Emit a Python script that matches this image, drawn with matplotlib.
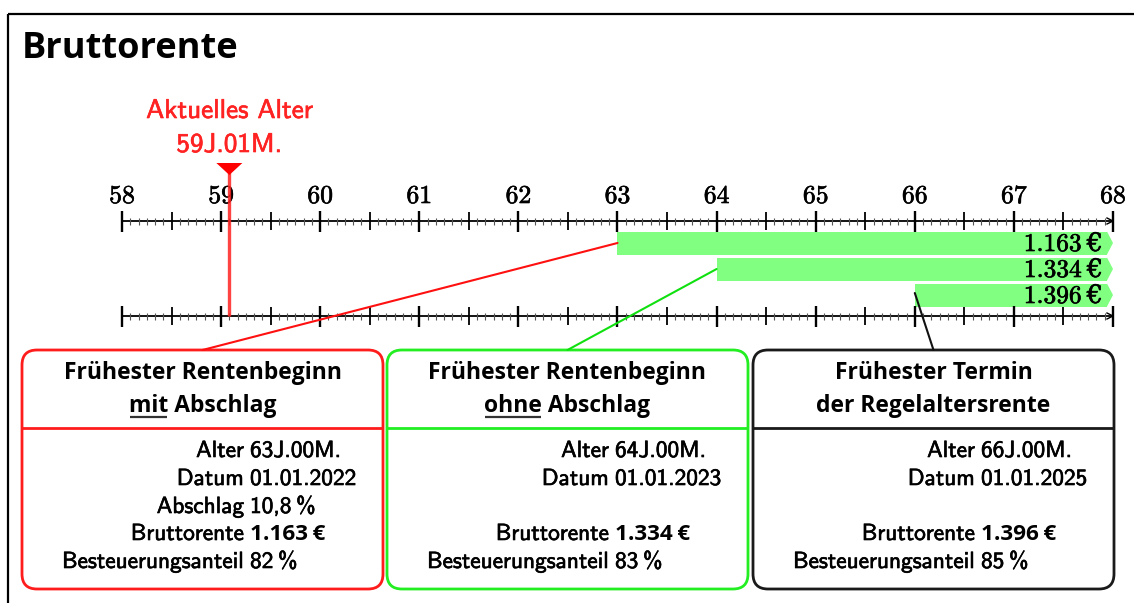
import matplotlib
matplotlib.use("Agg")
import matplotlib.pyplot as plt
import matplotlib.patheffects as pe
import numpy as np
from matplotlib.patches import ConnectionPatch, FancyBboxPatch, Polygon, Rectangle

# --- data ---------------------------------------------------------------------------
AXIS_START, AXIS_END = 58, 68
current_age = (59, 1)                      # years, months
start_ages = [63, 64, 66]
start_months = [0, 0, 0]
pensions = [1163, 1334, 1396]              # Bruttorente in EUR
dates = ["01.01.2022", "01.01.2023", "01.01.2025"]
deductions = [10.8, None, None]            # Abschlag in %
tax_shares = [82, 83, 85]                  # Besteuerungsanteil in %
title_line1 = ["Frühester Rentenbeginn", "Frühester Rentenbeginn", "Frühester Termin"]
title_line2 = ["mit Abschlag", "ohne Abschlag", "der Regelaltersrente"]
underlined = ["mit", "ohne", ""]
colors = ["#ff1c1c", "#22ee22", "#1a1a1a"]
leader_colors = ["#ff1010", "#10e010", "#111111"]

# --- layout (pixels) ----------------------------------------------------------------
W, H, DPI = 1134, 603, 100
PX0, PX1 = 122, 1113                       # pixel x of AXIS_START / AXIS_END
PPY = (PX1 - PX0) / (AXIS_END - AXIS_START)
AXIS_Y = [221, 316]
BAR_Y = [243, 269, 295]
BAR_H = 23
TIP = 6 / PPY
BOX_X = [22, 387, 753]
BOX_W, BOX_TOP, BOX_BOT, BOX_SEP = 361, 350, 589, 428
ROW_Y = [457, 485, 513, 540, 568]

SANS = ["cmss10", "DejaVu Sans"]
SERIF = ["cmr10", "DejaVu Serif"]
BOLD = ["Open Sans", "DejaVu Sans"]
RED = "#ff2222"


def thick(color="black", w=0.45):
    # cmss10/cmr10 render a bit light; a hairline stroke brings them closer to the PDF look
    return [pe.withStroke(linewidth=w, foreground=color)]


def de_num(v):
    return f"{v:,}".replace(",", ".")


def de_pct(v):
    return f"{v}".replace(".", ",") + "\u2009%"


fig = plt.figure(figsize=(W / DPI, H / DPI), dpi=DPI)
lay = fig.add_axes([0, 0, 1, 1])
lay.set_xlim(0, W)
lay.set_ylim(H, 0)
lay.axis("off")

ax = fig.add_axes([0, 0, 1, 1])
ax.set_xlim(AXIS_START - PX0 / PPY, AXIS_START + (W - PX0) / PPY)
ax.set_ylim(H, 0)
ax.axis("off")
ax.patch.set_alpha(0)

# frame + title
lay.add_patch(Rectangle((7.5, 14), 1200, 700, fill=False, ec="black", lw=1.6))
lay.text(22, 58, "Bruttorente", family=BOLD, weight="bold", size=26,
         ha="left", va="baseline")

# --- timeline axes ------------------------------------------------------------------
m = np.arange(AXIS_START * 12, AXIS_END * 12 + 1)
pos = m / 12
for y0 in AXIS_Y:
    ax.hlines(y0, AXIS_START, AXIS_END, color="black", lw=1.3, zorder=2)
    ax.vlines(pos[m % 6 != 0], y0 - 3.5, y0 + 3.5, color="#555555", lw=0.8, zorder=2)
    ax.vlines(pos[m % 12 == 6], y0 - 9, y0 + 9, color="black", lw=1.3, zorder=2)
    ax.vlines(pos[m % 12 == 0], y0 - 10.5, y0 + 10.5, color="black", lw=1.7, zorder=2)
    ax.plot([AXIS_END - 6 / PPY, AXIS_END, AXIS_END - 6 / PPY],
            [y0 - 3, y0, y0 + 3], color="black", lw=1.0, zorder=2)

for yr in range(AXIS_START, AXIS_END + 1):
    ax.text(yr, 203, str(yr), family=SERIF, size=18.5, ha="center", va="baseline",
            path_effects=thick())

# --- bars ---------------------------------------------------------------------------
for s, sm, p, yc in zip(start_ages, start_months, pensions, BAR_Y):
    x0 = s + sm / 12
    ax.barh(yc, AXIS_END - TIP - x0, left=x0, height=BAR_H, color="#80ff80",
            lw=0, zorder=1)
    ax.add_patch(Polygon([(AXIS_END - TIP, yc - BAR_H / 2), (AXIS_END, yc),
                          (AXIS_END - TIP, yc + BAR_H / 2)],
                         closed=True, fc="#80ff80", lw=0, zorder=1))
    ax.text(AXIS_END - 10 / PPY, yc + 8, de_num(p) + "\u2009€", family=SERIF,
            size=18.3, ha="right", va="baseline", zorder=3, path_effects=thick())

# --- current age marker -------------------------------------------------------------
xc = current_age[0] + current_age[1] / 12
ax.vlines(xc, 172, AXIS_Y[1], color=RED, lw=2.4, alpha=0.85, zorder=3)
ax.add_patch(Polygon([(xc - 13 / PPY, 163), (xc + 13 / PPY, 163), (xc, 175)],
                     closed=True, fc="red", ec="none", zorder=4))
ax.text(xc, 118, "Aktuelles Alter", family=SANS, size=19.5, color=RED,
        ha="center", va="baseline", path_effects=thick(RED))
ax.text(xc, 152, f"{current_age[0]}J.{current_age[1]:02d}M.", family=SANS,
        size=19.5, color=RED, ha="center", va="baseline", path_effects=thick(RED))

# --- info boxes ---------------------------------------------------------------------
fig.canvas.draw()
renderer = fig.canvas.get_renderer()
inv = lay.transData.inverted()

for i in range(3):
    bx = BOX_X[i]
    cx = bx + BOX_W / 2
    lay.add_patch(FancyBboxPatch((bx, BOX_TOP), BOX_W, BOX_BOT - BOX_TOP,
                                 boxstyle="round,pad=0,rounding_size=15",
                                 fc="white", ec=colors[i], lw=2.0, zorder=2))
    lay.hlines(BOX_SEP, bx, bx + BOX_W, color=colors[i], lw=2.0, zorder=3)
    lay.text(cx, 379, title_line1[i], family=BOLD, weight="bold", size=16.5,
             ha="center", va="baseline", zorder=4)
    t2 = lay.text(cx, 412, title_line2[i], family=BOLD, weight="bold", size=16.5,
                  ha="center", va="baseline", zorder=4)
    if underlined[i]:
        full = t2.get_window_extent(renderer)
        tmp = lay.text(0, 0, underlined[i], family=BOLD, weight="bold", size=16.5)
        w = tmp.get_window_extent(renderer).width
        tmp.remove()
        (ux0, _), (ux1, _) = inv.transform([(full.x0 + 1, 0), (full.x0 + w - 1, 0)])
        lay.hlines(416.5, ux0, ux1, color="#333333", lw=1.6, zorder=4)

    rows = [("Alter", f"{start_ages[i]}J.{start_months[i]:02d}M.", False),
            ("Datum", dates[i], False),
            ("Abschlag", de_pct(deductions[i]), False) if deductions[i] else None,
            ("Bruttorente", de_num(pensions[i]) + "\u2009€", True),
            ("Besteuerungsanteil", de_pct(tax_shares[i]), False)]
    for row, yb in zip(rows, ROW_Y):
        if row is None:
            continue
        label, value, bold = row
        lay.text(bx + 222, yb, label, family=SANS, size=16.8, ha="right",
                 va="baseline", zorder=4, path_effects=thick())
        if bold:
            lay.text(bx + 228, yb, value, family=BOLD, weight="bold", size=16.2,
                     ha="left", va="baseline", zorder=4)
        else:
            lay.text(bx + 228, yb, value, family=SANS, size=16.8, ha="left",
                     va="baseline", zorder=4, path_effects=thick())

    # leader from bar start to box top
    x0 = start_ages[i] + start_months[i] / 12
    ya = BAR_Y[i] if i < 2 else BAR_Y[i] - 2
    con = ConnectionPatch(xyA=(x0, ya), coordsA=ax.transData,
                          xyB=(cx, BOX_TOP), coordsB=lay.transData,
                          color=leader_colors[i], lw=1.5, zorder=5)
    fig.add_artist(con)

fig.savefig("out.png", dpi=DPI)
